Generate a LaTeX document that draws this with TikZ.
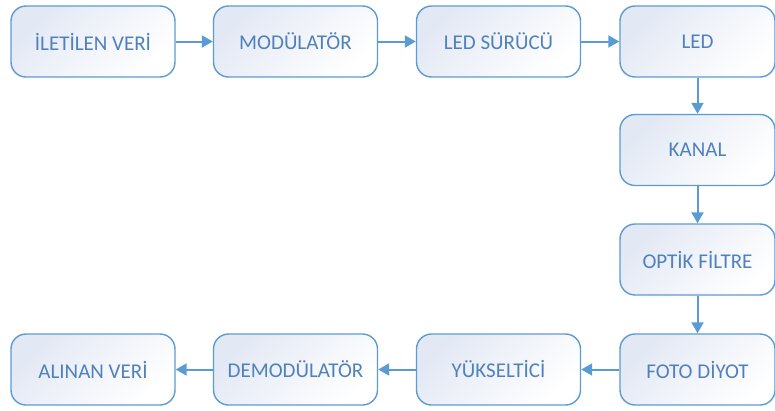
\documentclass[tikz,border=0pt]{standalone}
\usepackage{fontspec}
\setmainfont{Carlito}
\usetikzlibrary{arrows.meta}
\definecolor{txtblue}{RGB}{79,129,189}
\definecolor{lineblue}{RGB}{91,155,213}
\definecolor{fillblue}{RGB}{226,232,244}
\tikzset{
  blk/.style={draw=lineblue, line width=1.4pt, rounded corners=15pt,
    minimum width=164pt, minimum height=71pt, inner sep=0pt,
    top color=fillblue, bottom color=white, shading angle=45,
    text=txtblue, font=\fontsize{21}{24}\selectfont},
  lastblk/.style={blk, minimum width=155pt},
  conn/.style={draw=lineblue, line width=2pt, -{Triangle[length=11pt,width=12pt]}}
}
\begin{document}
\begin{tikzpicture}[x=1pt,y=-1pt]
\useasboundingbox (0,0) rectangle (775,410);
\clip (0,0) rectangle (775,410);
\node[blk] (a) at (93,41.5) {İLETİLEN VERİ};
\node[blk] (b) at (295.5,41.5) {MODÜLATÖR};
\node[blk] (c) at (498.5,41.5) {LED SÜRÜCÜ};
\node[lastblk] (d) at (697.5,41.5) {LED};
\node[lastblk] (e) at (697.5,150) {KANAL};
\node[lastblk] (f) at (697.5,259.5) {OPTİK FİLTRE};
\node[lastblk] (g) at (697.5,369.5) {FOTO DİYOT};
\node[blk] (h) at (498.5,369.5) {YÜKSELTİCİ};
\node[blk] (i) at (295.5,369.5) {DEMODÜLATÖR};
\node[blk] (j) at (93,369.5) {ALINAN VERİ};
\draw[conn] (a) -- (b);
\draw[conn] (b) -- (c);
\draw[conn] (c) -- (d);
\draw[conn] (d) -- (e);
\draw[conn] (e) -- (f);
\draw[conn] (f) -- (g);
\draw[conn] (g) -- (h);
\draw[conn] (h) -- (i);
\draw[conn] (i) -- (j);
\end{tikzpicture}
\end{document}
